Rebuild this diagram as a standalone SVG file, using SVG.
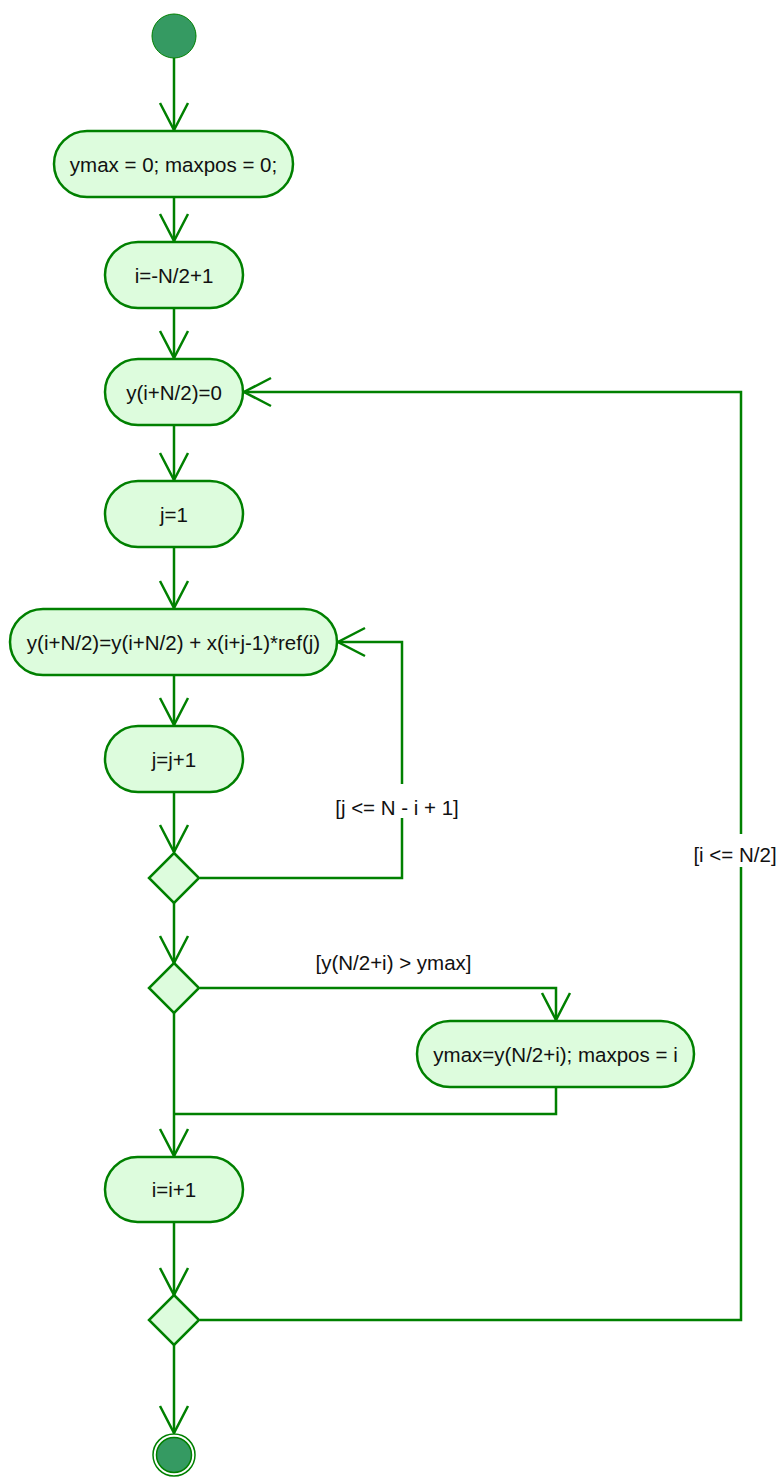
<svg xmlns="http://www.w3.org/2000/svg" width="781" height="1477" viewBox="0 0 781 1477">
<style>
.n{fill:#ddfcdd;stroke:#008000;stroke-width:2.5}
.c{fill:none;stroke:#008000;stroke-width:2.5}
.t{font-family:"Liberation Sans",Arial,sans-serif;font-size:20.5px;fill:#111;text-anchor:middle;dominant-baseline:central}
.bg{fill:#fff}
</style>
<defs>
<marker id="a" markerUnits="userSpaceOnUse" markerWidth="32" markerHeight="32" refX="28" refY="15" orient="auto" viewBox="0 0 32 30">
<path d="M1,1 L28,15 L1,29" fill="none" stroke="#008000" stroke-width="2.5"/>
</marker>
</defs>
<rect width="781" height="1477" fill="#fff"/>
<g id="connectors">
<path class="c" d="M174,58 V130" marker-end="url(#a)"/>
<path class="c" d="M174,197 V241" marker-end="url(#a)"/>
<path class="c" d="M174,308 V358" marker-end="url(#a)"/>
<path class="c" d="M174,425 V480" marker-end="url(#a)"/>
<path class="c" d="M174,547 V608" marker-end="url(#a)"/>
<path class="c" d="M174,675 V725" marker-end="url(#a)"/>
<path class="c" d="M174,792 V852" marker-end="url(#a)"/>
<path class="c" d="M200,878 H402 V642 H338" marker-end="url(#a)"/>
<path class="c" d="M174,903 V963" marker-end="url(#a)"/>
<path class="c" d="M200,988 H556 V1020" marker-end="url(#a)"/>
<path class="c" d="M174,1013 V1156" marker-end="url(#a)"/>
<path class="c" d="M556,1087 V1114 H174"/>
<path class="c" d="M174,1222 V1295" marker-end="url(#a)"/>
<path class="c" d="M200,1320 H741 V392 H244" marker-end="url(#a)"/>
<path class="c" d="M174,1345 V1433" marker-end="url(#a)"/>
<rect class="bg" x="334" y="784" width="127" height="34"/>
<text class="t" x="397" y="807">[j &lt;= N - i + 1]</text>
<text class="t" x="393.5" y="962">[y(N/2+i) &gt; ymax]</text>
<rect class="bg" x="692" y="834" width="86" height="33"/>
<text class="t" x="735" y="854">[i &lt;= N/2]</text>
</g>
<g id="start"><circle cx="174" cy="36" r="22" fill="#359a62" stroke="#008000" stroke-width="1"/></g>
<g id="n1"><rect class="n" x="54" y="131" width="239" height="66" rx="33"/><text class="t" x="173.5" y="164">ymax = 0; maxpos = 0;</text></g>
<g id="n2"><rect class="n" x="105" y="242" width="138" height="66" rx="33"/><text class="t" x="174" y="275">i=-N/2+1</text></g>
<g id="n3"><rect class="n" x="105" y="359" width="138" height="66" rx="33"/><text class="t" x="174" y="392">y(i+N/2)=0</text></g>
<g id="n4"><rect class="n" x="105" y="481" width="138" height="66" rx="33"/><text class="t" x="174" y="514">j=1</text></g>
<g id="n5"><rect class="n" x="10" y="609" width="327" height="66" rx="33"/><text class="t" x="173.5" y="642">y(i+N/2)=y(i+N/2) + x(i+j-1)*ref(j)</text></g>
<g id="n6"><rect class="n" x="105" y="726" width="138" height="66" rx="33"/><text class="t" x="174" y="759">j=j+1</text></g>
<g id="d1"><path class="n" d="M174,853 L199,878 L174,903 L149,878 Z"/></g>
<g id="d2"><path class="n" d="M174,963 L199,988 L174,1013 L149,988 Z"/></g>
<g id="n7"><rect class="n" x="417" y="1021" width="277" height="66" rx="33"/><text class="t" x="555.5" y="1054">ymax=y(N/2+i); maxpos = i</text></g>
<g id="n8"><rect class="n" x="105" y="1157" width="138" height="65" rx="32.5"/><text class="t" x="174" y="1189.5">i=i+1</text></g>
<g id="d3"><path class="n" d="M174,1295 L199,1320 L174,1345 L149,1320 Z"/></g>
<g id="end"><circle cx="174" cy="1455" r="21" fill="#fff" stroke="#008000" stroke-width="1.5"/><circle cx="174" cy="1455" r="17.5" fill="#359a62" stroke="#008000" stroke-width="1.5"/></g>
</svg>
